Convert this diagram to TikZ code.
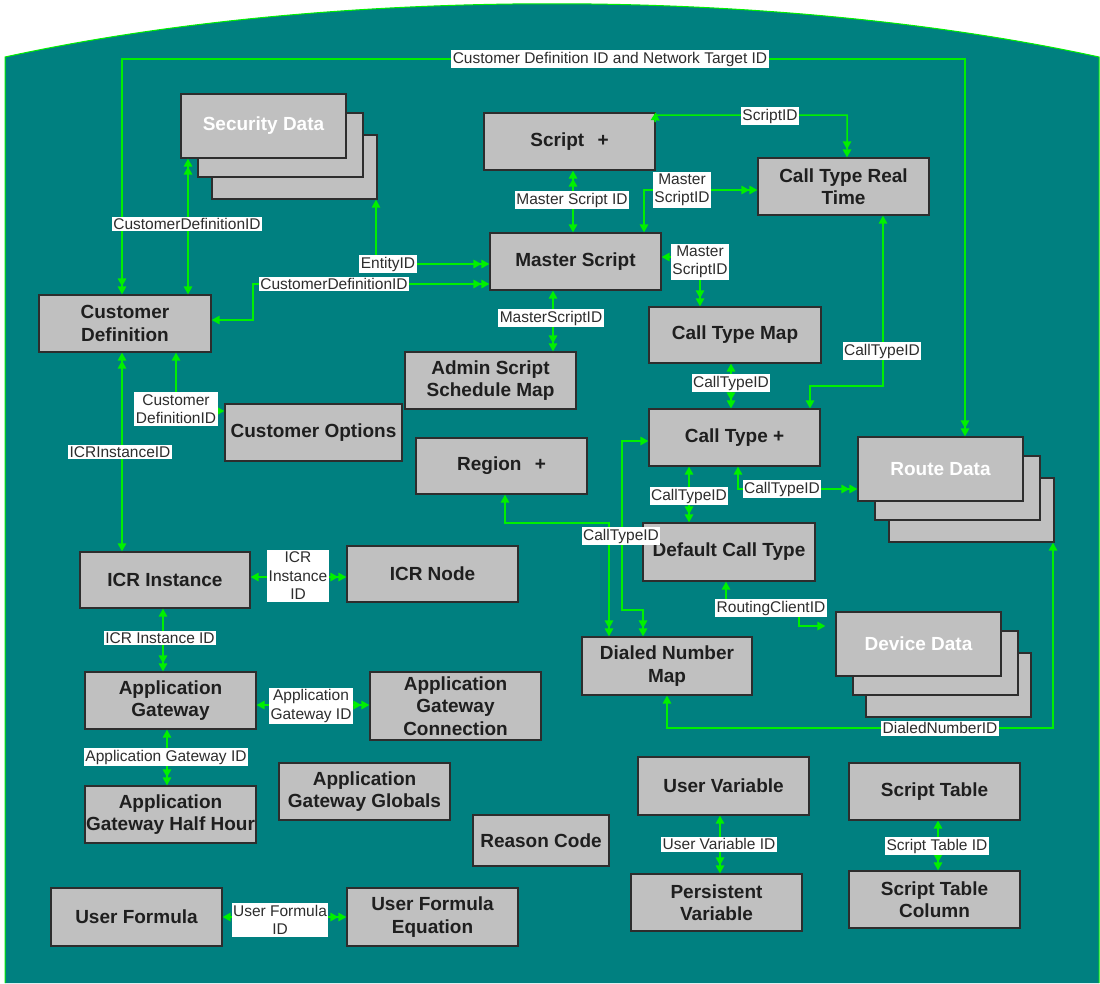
\documentclass[tikz,border=0pt]{standalone}
\usepackage{fontspec}
\setmainfont{Liberation Sans}
\usetikzlibrary{arrows.meta}
\definecolor{teal0}{RGB}{0,128,128}
\definecolor{lgreen}{RGB}{0,240,0}
\definecolor{boxfill}{RGB}{192,192,192}
\definecolor{boxline}{RGB}{45,45,45}
\definecolor{lbltext}{RGB}{45,45,45}
\begin{document}
\begin{tikzpicture}[x=1pt,y=-1pt,>={Triangle[length=8pt,width=8.5pt]},
  box/.style={draw=boxline, fill=boxfill, line width=1.3pt, inner sep=0pt, align=center,
    font=\bfseries\fontsize{19}{22.5}\selectfont, text=black!88},
  sz/.style 2 args={minimum width=#1pt, minimum height=#2pt},
  stk/.style={box, sz={165}{64}},
  lbl/.style={fill=white, inner xsep=1.5pt, inner ysep=1.8pt, align=center,
    font=\fontsize{15.5}{18.5}\selectfont, text=lbltext},
  conn/.style={draw=lgreen, line width=1.5pt}]
\useasboundingbox (0,0) rectangle (1100,983);
\fill[white] (0,0) rectangle (1100,983);
% background shape
\path[draw=lgreen, line width=1pt, fill=teal0] (5,983) -- (5,57) .. controls (330,-14) and (774,-14) .. (1099,57) -- (1099,983);

% stacked boxes
\node[stk] (sec3) at (294.5,167) {};
\node[stk] (sec2) at (280.5,145) {};
\node[stk, text=white] (sec) at (263.5,126) {Security Data};
\node[stk] (rd3) at (971.5,510) {};
\node[stk] (rd2) at (957.5,488) {};
\node[stk, text=white] (rd) at (940.5,469) {Route Data};
\node[stk] (dd3) at (948.5,685) {};
\node[stk] (dd2) at (935.5,663) {};
\node[stk, text=white] (dd) at (918.5,644) {Device Data};

% plain boxes
\node[box, sz={172}{57}] (cd) at (125,323.5) {Customer\\Definition};
\node[box, sz={171}{57}] (script) at (569.5,141.5) {Script\hspace{0.7em}+};
\node[box, sz={171}{57}] (ctrt) at (843.5,186.5) {Call Type Real\\Time};
\node[box, sz={171}{57}] (ms) at (575.5,261.5) {Master Script};
\node[box, sz={172}{56}] (ctm) at (735,335) {Call Type Map};
\node[box, sz={171}{57}] (assm) at (490.5,380.5) {Admin Script\\Schedule Map};
\node[box, sz={177}{57}] (co) at (313.5,432.5) {Customer Options};
\node[box, sz={171}{56}] (region) at (501.5,466) {Region\hspace{0.7em}+};
\node[box, sz={171}{57}] (ctp) at (734.5,437.5) {Call Type +};
\node[box, sz={172}{58}] (dct) at (729,552) {Default Call Type};
\node[box, sz={170}{58}] (dnm) at (667,666) {Dialed Number\\Map};
\node[box, sz={170}{56}] (icri) at (165,580) {ICR Instance};
\node[box, sz={171}{56}] (icrn) at (432.5,574) {ICR Node};
\node[box, sz={171}{57}] (ag) at (170.5,700.5) {Application\\Gateway};
\node[box, sz={171}{68}] (agc) at (455.5,706) {Application\\Gateway\\Connection};
\node[box, sz={171}{57}] (aghh) at (170.5,814.5) {Application\\Gateway Half Hour};
\node[box, sz={171}{57}] (agg) at (364.5,791.5) {Application\\Gateway Globals};
\node[box, sz={136}{51}] (rc) at (541,840.5) {Reason Code};
\node[box, sz={171}{58}] (uf) at (136.5,917) {User Formula};
\node[box, sz={171}{58}] (ufe) at (432.5,917) {User Formula\\Equation};
\node[box, sz={171}{58}] (uv) at (723.5,786) {User Variable};
\node[box, sz={171}{57}] (pv) at (716.5,902.5) {Persistent\\Variable};
\node[box, sz={171}{57}] (st) at (934.5,791.5) {Script Table};
\node[box, sz={171}{57}] (stc) at (934.5,899.5) {Script Table\\Column};

% connectors
\draw[conn,<<->>] (cd.north -| 122,0) -- (122,59) -- (965,59) -- (rd.north -| 965,0);
\draw[conn,<<->] (sec.south -| 188,0) -- (cd.north -| 188,0);
\draw[conn,<->>] (sec3.south -| 376,0) -- (376,264) -- (ms.west |- 0,264);
\draw[conn,<->>] (cd.east |- 0,320) -- (253,320) -- (253,284) -- (ms.west |- 0,284);
\draw[conn,<<->] (script.south -| 573,0) -- (ms.north -| 573,0);
\draw[conn,<->>] (ms.north -| 644,0) -- (644,190) -- (ctrt.west |- 0,190);
\draw[conn,<->>] (script.north east) -- (655,122) -- (655,115) -- (847,115) -- (ctrt.north -| 847,0);
\draw[conn,<->>] (ms.east |- 0,257) -- (700,257) -- (ctm.north -| 700,0);
\draw[conn,<->>] (ms.south -| 553,0) -- (assm.north -| 553,0);
\draw[conn,<->>] (ctm.south -| 731,0) -- (ctp.north -| 731,0);
\draw[conn,<->] (ctrt.south -| 883,0) -- (883,386) -- (810,386) -- (ctp.north -| 810,0);
\draw[conn,<->>] (cd.south -| 176,0) -- (176,411) -- (co.west |- 0,411);
\draw[conn,<<->] (cd.south -| 122,0) -- (icri.north -| 122,0);
\draw[conn,<->>] (icri.east |- 0,577) -- (icrn.west |- 0,577);
\draw[conn,<->>] (icri.south -| 163,0) -- (ag.north -| 163,0);
\draw[conn,<->>] (ag.east |- 0,705) -- (agc.west |- 0,705);
\draw[conn,<->>] (ag.south -| 167,0) -- (aghh.north -| 167,0);
\draw[conn,<->>] (uf.east |- 0,917) -- (ufe.west |- 0,917);
\draw[conn,<->>] (uv.south -| 720,0) -- (pv.north -| 720,0);
\draw[conn,<->>] (st.south -| 938,0) -- (stc.north -| 938,0);
\draw[conn,<->>] (ctp.south -| 689,0) -- (dct.north -| 689,0);
\draw[conn,<->>] (ctp.south -| 738,0) -- (738,489) -- (rd.west |- 0,489);
\draw[conn,<->>] (ctp.west |- 0,441) -- (622,441) -- (622,610) -- (643,610) -- (dnm.north -| 643,0);
\draw[conn,<->>] (region.south -| 505,0) -- (505,523) -- (609,523) -- (dnm.north -| 609,0);
\draw[conn,<->,shorten >=10pt] (dct.south -| 726,0) -- (726,607) -- (799,607) -- (799,626) -- (dd.west |- 0,626);
\draw[conn,<->] (dnm.south -| 667,0) -- (667,728) -- (1053,728) -- (rd3.south -| 1053,0);

% labels
\node[lbl] (l1) at (610,59) {Customer Definition ID and Network Target ID};
\node[lbl] (l2) at (187,224) {CustomerDefinitionID};
\node[lbl] (l3) at (388,264) {EntityID};
\node[lbl] (l4) at (334,284) {CustomerDefinitionID};
\node[lbl] (l5) at (572,200) {Master Script ID};
\node[lbl] (l6) at (682,190) {Master\\ScriptID};
\node[lbl] (l7) at (770,116) {ScriptID};
\node[lbl] (l8) at (700,262) {Master\\ScriptID};
\node[lbl] (l9) at (551,318) {MasterScriptID};
\node[lbl] (l10) at (731,383) {CallTypeID};
\node[lbl] (l11) at (882,351) {CallTypeID};
\node[lbl] (l12) at (176,409) {Customer\\DefinitionID};
\node[lbl] (l13) at (120,452) {ICRInstanceID};
\node[lbl] (l14) at (298,576) {ICR\\Instance\\ID};
\node[lbl] (l15) at (160,638) {ICR Instance ID};
\node[lbl] (l16) at (311,706) {Application\\Gateway ID};
\node[lbl] (l17) at (166,757) {Application Gateway ID};
\node[lbl] (l18) at (280,920) {User Formula\\ID};
\node[lbl] (l19) at (719,844) {User Variable ID};
\node[lbl] (l20) at (937,846) {Script Table ID};
\node[lbl] (l21) at (689,496) {CallTypeID};
\node[lbl] (l22) at (782,489) {CallTypeID};
\node[lbl] (l23) at (621,536) {CallTypeID};
\node[lbl] (l24) at (771,608) {RoutingClientID};
\node[lbl] (l25) at (940,728) {DialedNumberID};
\end{tikzpicture}
\end{document}
